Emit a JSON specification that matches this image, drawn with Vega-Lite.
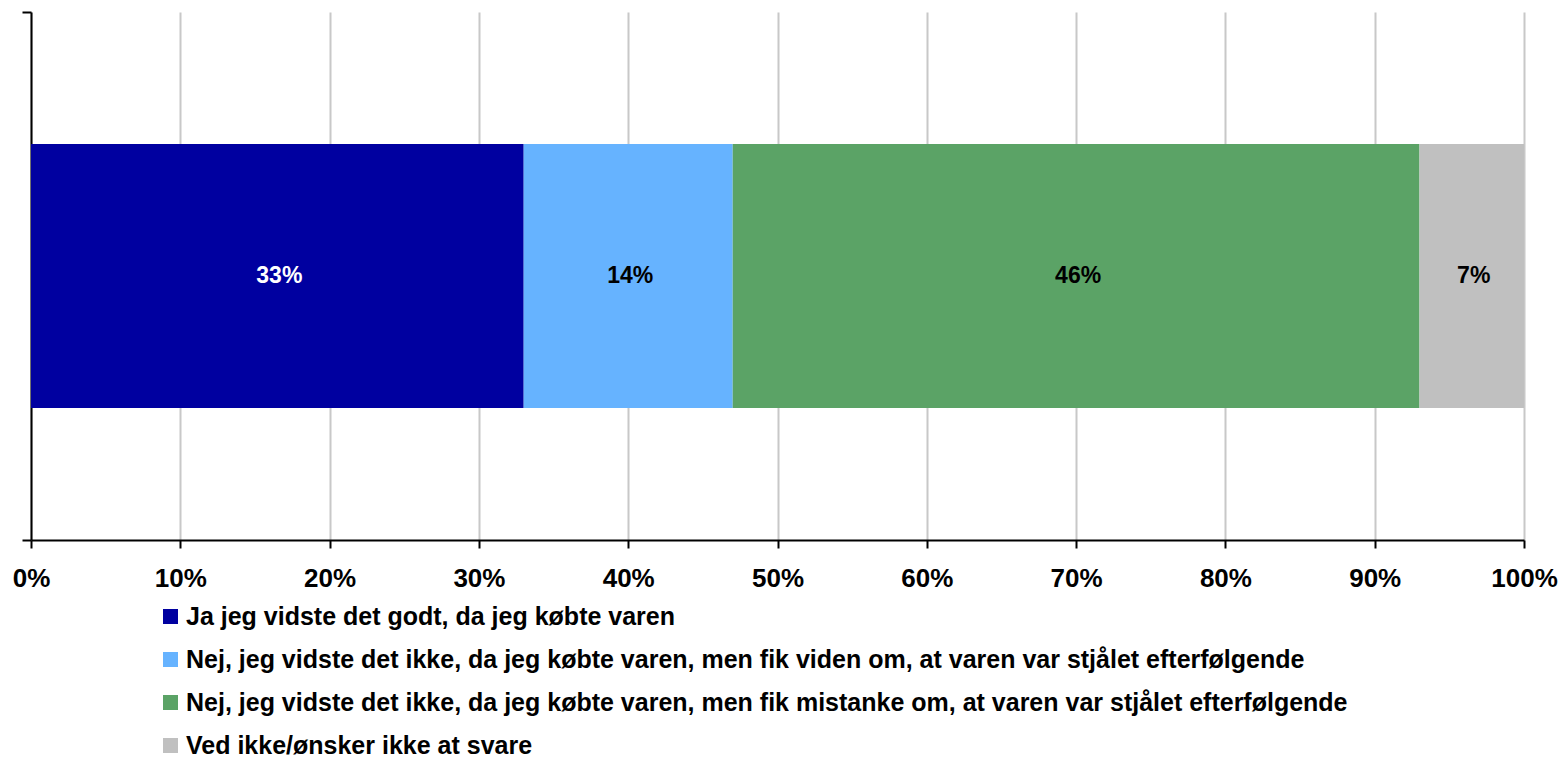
{
  "$schema": "https://vega.github.io/schema/vega-lite/v6.json",
  "autosize": "none",
  "width": 1493,
  "height": 528,
  "padding": {"left": 31, "top": 12, "right": 40, "bottom": 218},
  "background": "white",
  "config": {
    "view": {"stroke": null},
    "font": "Liberation Sans"
  },
  "data": {
    "values": [
      {"group": "A", "answer": "Ja jeg vidste det godt, da jeg købte varen", "rank": 1, "value": 0.33},
      {"group": "A", "answer": "Nej, jeg vidste det ikke, da jeg købte varen, men fik viden om, at varen var stjålet efterfølgende", "rank": 2, "value": 0.14},
      {"group": "A", "answer": "Nej, jeg vidste det ikke, da jeg købte varen, men fik mistanke om, at varen var stjålet efterfølgende", "rank": 3, "value": 0.46},
      {"group": "A", "answer": "Ved ikke/ønsker ikke at svare", "rank": 4, "value": 0.07}
    ]
  },
  "encoding": {
    "y": {
      "field": "group",
      "type": "nominal",
      "scale": {"paddingInner": 0, "paddingOuter": 0},
      "axis": {
        "title": null,
        "labels": false,
        "tickBand": "extent",
        "tickSize": 9,
        "tickColor": "black",
        "tickWidth": 2,
        "domainColor": "black",
        "domainWidth": 2,
        "grid": false
      }
    }
  },
  "layer": [
    {
      "mark": {"type": "bar", "height": {"band": 0.5}},
      "encoding": {
        "x": {
          "field": "value",
          "type": "quantitative",
          "stack": "zero",
          "scale": {"domain": [0, 1], "nice": false},
          "axis": {
            "title": null,
            "values": [0, 0.1, 0.2, 0.3, 0.4, 0.5, 0.6, 0.7, 0.8, 0.9, 1],
            "format": ".0%",
            "labelFont": "Liberation Sans",
            "labelFontWeight": "bold",
            "labelFontSize": 26,
            "labelColor": "black",
            "labelPadding": 17,
            "labelFlush": false,
            "labelOverlap": false,
            "tickSize": 8,
            "tickColor": "black",
            "tickWidth": 2,
            "domainColor": "black",
            "domainWidth": 2,
            "grid": true,
            "gridColor": "#c8c8c8",
            "gridWidth": 2
          }
        },
        "color": {
          "field": "answer",
          "type": "nominal",
          "sort": {"field": "rank"},
          "scale": {
            "domain": [
              "Ja jeg vidste det godt, da jeg købte varen",
              "Nej, jeg vidste det ikke, da jeg købte varen, men fik viden om, at varen var stjålet efterfølgende",
              "Nej, jeg vidste det ikke, da jeg købte varen, men fik mistanke om, at varen var stjålet efterfølgende",
              "Ved ikke/ønsker ikke at svare"
            ],
            "range": ["#0000A0", "#66B3FF", "#5BA366", "#C0C0C0"]
          },
          "legend": {
            "title": null,
            "orient": "none",
            "legendX": 127,
            "legendY": 592,
            "direction": "vertical",
            "symbolType": "square",
            "symbolSize": 225,
            "symbolStrokeWidth": 0,
            "labelFont": "Liberation Sans",
            "labelFontWeight": "bold",
            "labelFontSize": 25,
            "labelColor": "black",
            "labelLimit": 0,
            "labelOffset": 3,
            "rowPadding": 17,
            "padding": 0
          }
        },
        "order": {"field": "rank", "type": "quantitative"}
      }
    },
    {
      "mark": {"type": "text", "font": "Liberation Sans", "fontWeight": "bold", "fontSize": 23, "align": "center", "baseline": "middle", "dx": 2},
      "encoding": {
        "x": {"field": "value", "type": "quantitative", "stack": "zero", "bandPosition": 0.5},
        "text": {"field": "value", "type": "quantitative", "format": ".0%"},
        "order": {"field": "rank", "type": "quantitative"},
        "color": {
          "condition": {"test": "datum.rank === 1", "value": "white"},
          "value": "black"
        }
      }
    }
  ]
}
